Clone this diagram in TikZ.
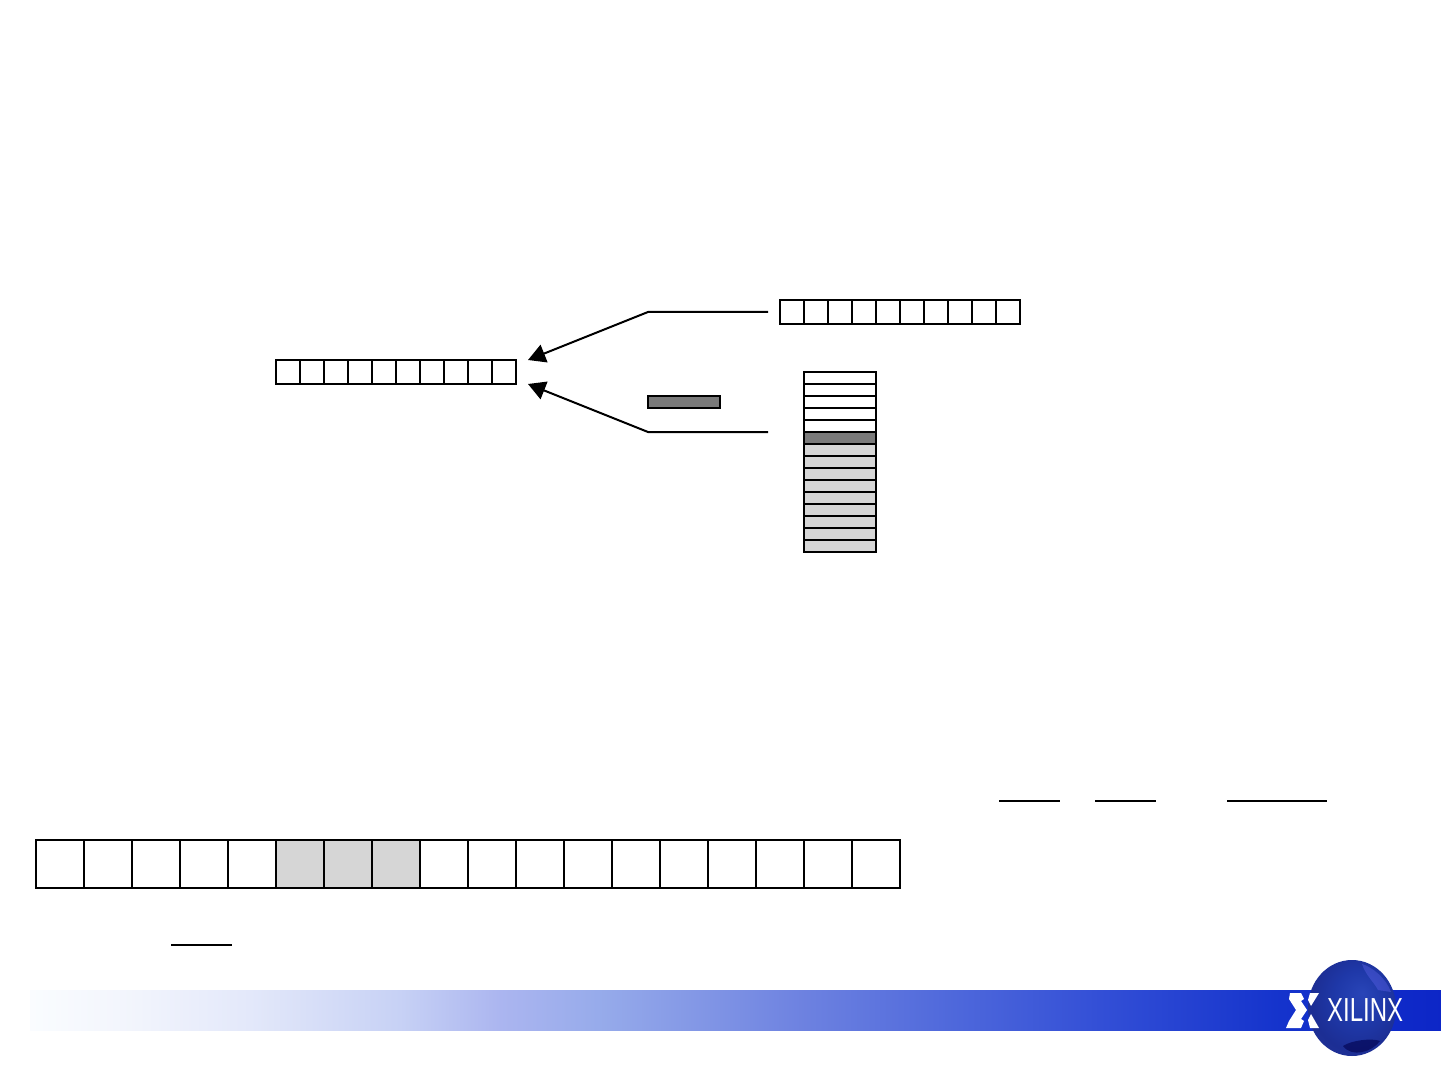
\documentclass[tikz,border=0pt]{standalone}
\usepackage{fontspec}
\setmainfont{Liberation Sans}
\usetikzlibrary{arrows.meta,calc}
\pgfdeclarehorizontalshading{bannershade}{100bp}{
  rgb(0bp)=(1,1,1);
  rgb(25bp)=(0.98,0.99,1);
  rgb(28.5bp)=(0.95,0.96,0.99);
  rgb(32.8bp)=(0.89,0.91,0.98);
  rgb(38.1bp)=(0.78,0.82,0.96);
  rgb(41.7bp)=(0.67,0.71,0.94);
  rgb(45.2bp)=(0.59,0.67,0.92);
  rgb(52.3bp)=(0.43,0.51,0.88);
  rgb(57.6bp)=(0.31,0.41,0.86);
  rgb(62.9bp)=(0.20,0.31,0.84);
  rgb(69.3bp)=(0.08,0.20,0.80);
  rgb(75bp)=(0.05,0.15,0.78);
  rgb(100bp)=(0.05,0.15,0.78)}
\pgfdeclareradialshading{globeshade}{\pgfpoint{6bp}{8bp}}{
  rgb(0bp)=(0.16,0.27,0.72);
  rgb(14bp)=(0.12,0.22,0.66);
  rgb(26bp)=(0.11,0.18,0.58);
  rgb(36bp)=(0.13,0.20,0.60);
  rgb(50bp)=(0.10,0.15,0.48)}
\tikzset{
  cellbox/.style={draw=black,line width=1.5pt,minimum width=#1,inner sep=0pt,outer sep=0pt},
  lead/.style={draw=black,line width=1.5pt},
  barline/.style={draw=black,line width=1.5pt},
  pointer/.style={lead,-{Triangle[length=13pt,width=14pt]}},
  plain/.style={fill=white},
  lightcell/.style={fill=black!16},
  darkcell/.style={fill=black!52},
  logopart/.style={fill=white,draw=none}
}
\begin{document}
\begin{tikzpicture}[x=0.75pt,y=-0.75pt]
\useasboundingbox (0,0) rectangle (1441,1080);
% banner
\shade[shading=bannershade,draw=none] (30,990) rectangle (1441,1030);
% globe
\shade[shading=globeshade] (1352,1008) ellipse [x radius=44,y radius=48];
\fill[blue!30!black,opacity=.6] (1343,1046) .. controls (1352,1040) and (1372,1038) .. (1380,1041) .. controls (1372,1052) and (1352,1058) .. (1343,1046) -- cycle;
\fill[white!45!blue,opacity=.3] (1362,964) .. controls (1372,967) and (1386,978) .. (1391,992) -- (1378,990) .. controls (1374,982) and (1366,976) .. (1362,964) -- cycle;
% logo mark
\fill[logopart] (1290,993) -- (1301,993) -- (1304,999) -- (1301,1001) -- (1307,1010) -- (1301,1019) -- (1304,1021) -- (1301,1028) -- (1286,1028) -- (1289,1021) -- (1296,1010) -- (1289,999) -- cycle;
\fill[logopart] (1310,993) -- (1319,993) -- (1311,1006) -- (1308,1000) -- cycle;
\fill[logopart] (1311,1014) -- (1319,1028) -- (1310,1028) -- (1308,1020) -- cycle;
% logo word
\node[text=white,inner sep=0pt,font=\fontsize{25pt}{25pt}\selectfont,xscale=.72,anchor=west] (logoword) at (1327,1010) {XILINX};

% register above right
\foreach \i in {0,...,9}
  \node[cellbox=18pt,minimum height=18pt,plain,anchor=north west] (b\i) at ({780+24*\i},300) {};
% register left
\foreach \i in {0,...,9}
  \node[cellbox=18pt,minimum height=18pt,plain,anchor=north west] (a\i) at ({276+24*\i},360) {};
% stack
\foreach \i in {0,...,4}
  \node[cellbox=54pt,minimum height=9pt,plain,anchor=north west] (s\i) at (804,{372+12*\i}) {};
\node[cellbox=54pt,minimum height=9pt,darkcell,anchor=north west] (s5) at (804,432) {};
\foreach \i in {6,...,14}
  \node[cellbox=54pt,minimum height=9pt,lightcell,anchor=north west] (s\i) at (804,{372+12*\i}) {};
% small dark bar
\node[cellbox=54pt,minimum height=9pt,darkcell,anchor=north west] (bar) at (648,396) {};
% connectors
\coordinate (tipa) at (528,360);
\coordinate (tipb) at (528,384);
\coordinate (benda) at (648,312);
\coordinate (bendb) at (648,432);
\coordinate (starta) at (768,312);
\coordinate (startb) at (768,432);
\draw[pointer] (starta) -- (benda) -- (tipa);
\draw[pointer] (startb) -- (bendb) -- (tipb);
% bottom register
\foreach \i in {0,...,17}{
  \ifnum\i=5 \def\cellstyle{lightcell}\else\ifnum\i=6 \def\cellstyle{lightcell}\else\ifnum\i=7 \def\cellstyle{lightcell}\else\def\cellstyle{plain}\fi\fi\fi
  \node[cellbox=36pt,minimum height=36pt,\cellstyle,anchor=north west] (c\i) at ({36+48*\i},840) {};
}
% short rules
\coordinate (r1a) at (999,801); \coordinate (r1b) at (1060,801);
\coordinate (r2a) at (1095,801); \coordinate (r2b) at (1156,801);
\coordinate (r3a) at (1227,801); \coordinate (r3b) at (1327,801);
\coordinate (r4a) at (171,945); \coordinate (r4b) at (232,945);
\draw[barline] (r1a) -- (r1b);
\draw[barline] (r2a) -- (r2b);
\draw[barline] (r3a) -- (r3b);
\draw[barline] (r4a) -- (r4b);
\end{tikzpicture}
\end{document}
